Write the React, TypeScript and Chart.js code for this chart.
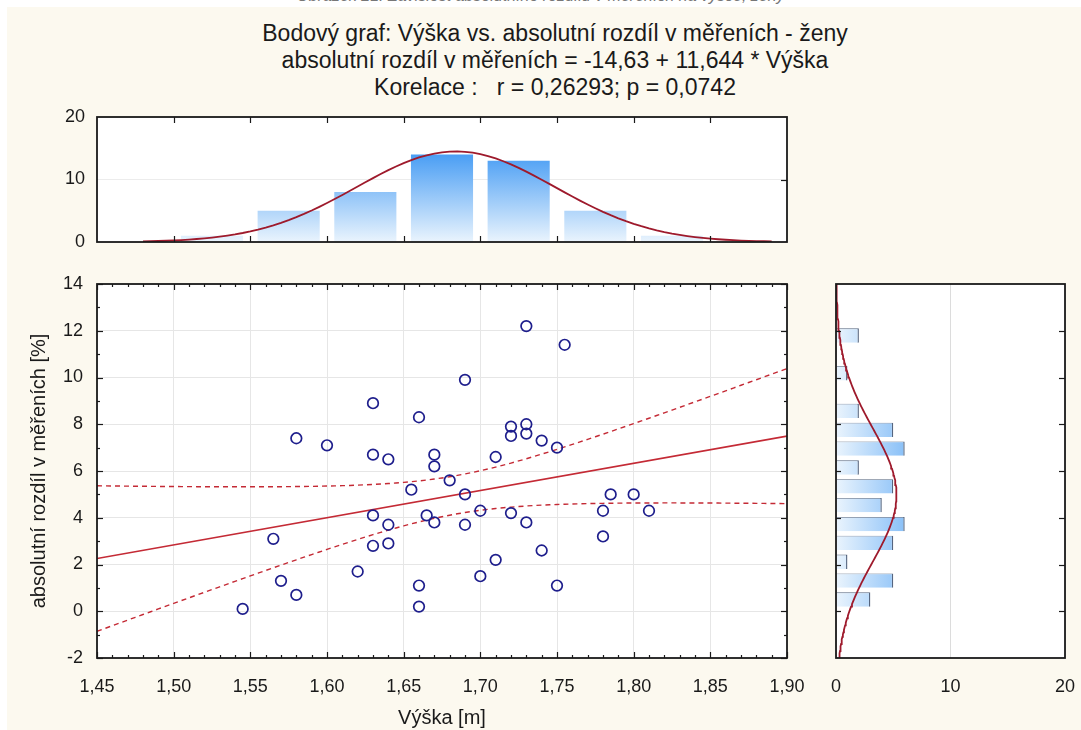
import React, { useEffect, useRef } from "react";
import { Chart, registerables } from "chart.js";

Chart.register(...registerables);

// ---------- data ----------
const heights = [
  1.545, 1.565, 1.57, 1.58, 1.58, 1.6, 1.62, 1.63, 1.63, 1.63, 1.63, 1.64, 1.64, 1.64,
  1.655, 1.66, 1.66, 1.66, 1.665, 1.67, 1.67, 1.67, 1.68, 1.69, 1.69, 1.69, 1.7, 1.7,
  1.71, 1.71, 1.72, 1.72, 1.72, 1.73, 1.73, 1.73, 1.73, 1.74, 1.74, 1.75, 1.75, 1.755,
  1.78, 1.78, 1.785, 1.8, 1.81,
];
const diffs = [
  0.1, 3.1, 1.3, 0.7, 7.4, 7.1, 1.7, 8.9, 6.7, 4.1, 2.8, 6.5, 3.7, 2.9,
  5.2, 8.3, 1.1, 0.2, 4.1, 6.7, 6.2, 3.8, 5.6, 9.9, 5.0, 3.7, 4.3, 1.5,
  6.6, 2.2, 7.9, 7.5, 4.2, 12.2, 8.0, 7.6, 3.8, 7.3, 2.6, 7.0, 1.1, 11.4,
  4.3, 3.2, 5.0, 5.0, 4.3,
];
const heightBinCenters = [1.525, 1.575, 1.625, 1.675, 1.725, 1.775, 1.825];
const heightBinCounts = [1, 5, 8, 14, 13, 5, 1];
const heightBinWidth = 0.05;
const diffBinCenters = [0.503, 1.31, 2.117, 2.923, 3.73, 4.537, 5.343, 6.15, 6.957, 7.763, 8.57, 9.377, 10.183, 10.99, 11.797];
const diffBinCounts = [3, 5, 1, 5, 6, 4, 5, 2, 6, 5, 2, 0, 1, 0, 2];
const diffBinWidth = 0.8067;
const xTickValues = [1.45, 1.5, 1.55, 1.6, 1.65, 1.7, 1.75, 1.8, 1.85, 1.9];
const yTickValues = [-2, 0, 2, 4, 6, 8, 10, 12, 14];
const histCountTicks = [0, 10, 20];
const intercept = -14.63;
const slope = 11.644;
const tCrit = 2.014;

const titleLines = [
  "Bodový graf: Výška vs. absolutní rozdíl v měřeních - ženy",
  "absolutní rozdíl v měřeních = -14,63 + 11,644 * Výška",
  "Korelace :   r = 0,26293; p = 0,0742",
];
const xTitle = "Výška [m]";
const yTitle = "absolutní rozdíl v měřeních [%]";
const caption = "Obrázek 21: Závislost absolutního rozdílu v měřeních na výšce, ženy";

// ---------- derived statistics ----------
const n = heights.length;
const mean = (a: number[]) => a.reduce((s, v) => s + v, 0) / a.length;
const sdev = (a: number[]) => {
  const m = mean(a);
  return Math.sqrt(a.reduce((s, v) => s + (v - m) * (v - m), 0) / (a.length - 1));
};
const mx = mean(heights);
const my = mean(diffs);
const sx = sdev(heights);
const sy = sdev(diffs);
const Sxx = heights.reduce((s, v) => s + (v - mx) * (v - mx), 0);
const sse = heights.reduce((s, v, i) => {
  const r = diffs[i] - (intercept + slope * v);
  return s + r * r;
}, 0);
const sRes = Math.sqrt(sse / (n - 2));
const pdf = (v: number, m: number, s: number) =>
  Math.exp(-0.5 * ((v - m) / s) ** 2) / (s * Math.sqrt(2 * Math.PI));

const FONT = "'Liberation Sans', Arial, Helvetica, sans-serif";
const TEXT = "#1a1a1a";
const GRID = "#e6e6e6";
const RED = "#c42a35";
const DARKRED = "#9e1a2c";

type Side = "top" | "bottom" | "left" | "right";
type TickSpec = { side: Side; values: number[]; major: (v: number) => boolean; majorLen?: number; minorLen?: number };

function framePlugin(specs: TickSpec[]) {
  return {
    id: "frame",
    beforeDraw(chart: any) {
      const { ctx, chartArea: a } = chart;
      ctx.save();
      ctx.fillStyle = "#ffffff";
      ctx.fillRect(a.left, a.top, a.right - a.left, a.bottom - a.top);
      ctx.restore();
    },
    afterDraw(chart: any) {
      const { ctx, chartArea: a, scales } = chart;
      ctx.save();
      ctx.strokeStyle = "#1a1a1a";
      ctx.lineWidth = 1.2;
      for (const s of specs) {
        for (const v of s.values) {
          const len = s.major(v) ? s.majorLen ?? 6 : s.minorLen ?? 3;
          ctx.beginPath();
          if (s.side === "top" || s.side === "bottom") {
            const p = Math.round(scales.x.getPixelForValue(v)) + 0.5;
            if (s.side === "top") {
              ctx.moveTo(p, a.top);
              ctx.lineTo(p, a.top + len);
            } else {
              ctx.moveTo(p, a.bottom);
              ctx.lineTo(p, a.bottom - len);
            }
          } else {
            const p = Math.round(scales.y.getPixelForValue(v)) + 0.5;
            if (s.side === "left") {
              ctx.moveTo(a.left, p);
              ctx.lineTo(a.left + len, p);
            } else {
              ctx.moveTo(a.right, p);
              ctx.lineTo(a.right - len, p);
            }
          }
          ctx.stroke();
        }
      }
      ctx.lineWidth = 1.8;
      ctx.strokeRect(a.left, a.top, a.right - a.left, a.bottom - a.top);
      ctx.restore();
    },
  };
}

const tickFont = { family: FONT, size: 18 };
const comma = (v: number, d: number) => v.toFixed(d).replace(".", ",");
const noOverhang = (s: any) => {
  s.paddingLeft = 0;
  s.paddingRight = 0;
  s.paddingTop = 0;
  s.paddingBottom = 0;
};

export default function App() {
  const topRef = useRef<HTMLCanvasElement>(null);
  const mainRef = useRef<HTMLCanvasElement>(null);
  const sideRef = useRef<HTMLCanvasElement>(null);

  useEffect(() => {
    const charts: Chart[] = [];

    // ---------- main scatter ----------
    const hundredths: number[] = [];
    for (let i = 145; i <= 190; i++) hundredths.push(i / 100);
    const units: number[] = [];
    for (let i = -2; i <= 14; i++) units.push(i);

    const bandX: number[] = [];
    for (let i = 0; i <= 90; i++) bandX.push(1.45 + i * 0.005);
    const half = (x: number) => tCrit * sRes * Math.sqrt(1 / n + ((x - mx) * (x - mx)) / Sxx);

    charts.push(
      new Chart(mainRef.current!, {
        type: "scatter",
        data: {
          datasets: [
            {
              type: "scatter",
              data: heights.map((x, i) => ({ x, y: diffs[i] })),
              pointRadius: 5.3,
              pointBorderWidth: 1.7,
              borderColor: "#1e1e8c",
              backgroundColor: "rgba(0,0,0,0)",
              pointBackgroundColor: "rgba(0,0,0,0)",
              order: 0,
            } as any,
            {
              type: "line",
              data: [1.45, 1.9].map((x) => ({ x, y: intercept + slope * x })),
              borderColor: RED,
              borderWidth: 1.6,
              pointRadius: 0,
              order: 1,
            },
            {
              type: "line",
              data: bandX.map((x) => ({ x, y: intercept + slope * x + half(x) })),
              borderColor: RED,
              borderWidth: 1.4,
              borderDash: [5, 4],
              pointRadius: 0,
              order: 2,
            },
            {
              type: "line",
              data: bandX.map((x) => ({ x, y: intercept + slope * x - half(x) })),
              borderColor: RED,
              borderWidth: 1.4,
              borderDash: [5, 4],
              pointRadius: 0,
              order: 3,
            },
          ],
        },
        options: {
          animation: false,
          responsive: false,
          devicePixelRatio: 1,
          layout: { padding: { top: 14, right: 43, left: 0, bottom: 0 } },
          plugins: { legend: { display: false }, tooltip: { enabled: false } },
          scales: {
            x: {
              type: "linear",
              min: 1.45,
              max: 1.9,
              afterBuildTicks: (s: any) => {
                s.ticks = xTickValues.map((value) => ({ value }));
              },
              afterFit: (s: any) => {
                s.height = 72;
                noOverhang(s);
              },
              grid: { color: GRID, drawTicks: false },
              border: { display: false },
              ticks: {
                font: tickFont,
                color: TEXT,
                padding: 18,
                autoSkip: false,
                maxRotation: 0,
                callback: (v: any) => comma(Number(v), 2),
              },
            },
            y: {
              type: "linear",
              min: -2,
              max: 14,
              afterBuildTicks: (s: any) => {
                s.ticks = yTickValues.map((value) => ({ value }));
              },
              afterFit: (s: any) => {
                s.width = 97;
                noOverhang(s);
              },
              grid: { color: GRID, drawTicks: false },
              border: { display: false },
              ticks: { font: tickFont, color: TEXT, padding: 14, callback: (v: any) => String(v) },
            },
          },
        },
        plugins: [
          framePlugin([
            { side: "top", values: hundredths, major: (v) => Math.round(v * 100) % 5 === 0, majorLen: 6, minorLen: 3 },
            { side: "bottom", values: hundredths, major: (v) => Math.round(v * 100) % 5 === 0, majorLen: 6, minorLen: 3 },
            { side: "left", values: units, major: (v) => v % 2 === 0, majorLen: 6, minorLen: 3 },
            { side: "right", values: units, major: (v) => v % 2 === 0, majorLen: 6, minorLen: 3 },
          ]),
        ] as any,
      })
    );

    // ---------- top histogram ----------
    const normX: number[] = [];
    for (let i = 0; i <= 82; i++) normX.push(1.48 + i * 0.005);
    const topGrad = (c: any) => {
      const ch = c.chart;
      if (!ch.chartArea) return "#9cc8f6";
      const y = ch.scales.y;
      const g = ch.ctx.createLinearGradient(0, y.getPixelForValue(0), 0, y.getPixelForValue(14));
      g.addColorStop(0, "#eaf4fd");
      g.addColorStop(1, "#4a9ef4");
      return g;
    };
    const fifths = [1.5, 1.55, 1.6, 1.65, 1.7, 1.75, 1.8, 1.85];
    charts.push(
      new Chart(topRef.current!, {
        type: "bar",
        data: {
          datasets: [
            {
              type: "line",
              data: normX.map((x) => ({ x, y: n * heightBinWidth * pdf(x, mx, sx) })),
              borderColor: DARKRED,
              borderWidth: 1.8,
              pointRadius: 0,
              order: 0,
            } as any,
            {
              type: "bar",
              data: heightBinCenters.map((x, i) => ({ x, y: heightBinCounts[i] })),
              backgroundColor: topGrad,
              borderWidth: 0,
              categoryPercentage: 0.81,
              barPercentage: 1,
              order: 1,
            },
          ],
        },
        options: {
          animation: false,
          responsive: false,
          devicePixelRatio: 1,
          layout: { padding: { top: 17, right: 13, left: 0, bottom: 0 } },
          plugins: { legend: { display: false }, tooltip: { enabled: false } },
          scales: {
            x: {
              type: "linear",
              min: 1.45,
              max: 1.9,
              offset: false,
              afterBuildTicks: (s: any) => {
                s.ticks = xTickValues.map((value) => ({ value }));
              },
              afterFit: (s: any) => {
                s.height = 18;
                noOverhang(s);
              },
              grid: { display: false, offset: false },
              border: { display: false },
              ticks: { display: false },
            },
            y: {
              type: "linear",
              min: 0,
              max: 20,
              afterBuildTicks: (s: any) => {
                s.ticks = histCountTicks.map((value) => ({ value }));
              },
              afterFit: (s: any) => {
                s.width = 97;
                noOverhang(s);
              },
              grid: { color: "#ececec", drawTicks: false },
              border: { display: false },
              ticks: { font: tickFont, color: TEXT, padding: 12, callback: (v: any) => String(v) },
            },
          },
        },
        plugins: [
          framePlugin([
            { side: "top", values: fifths, major: () => true, majorLen: 6 },
            { side: "bottom", values: fifths, major: () => true, majorLen: 6 },
            { side: "right", values: [10], major: () => true, majorLen: 6 },
          ]),
        ] as any,
      })
    );

    // ---------- right histogram ----------
    const normY: number[] = [];
    for (let i = 0; i <= 160; i++) normY.push(-2 + i * 0.1);
    const sideGrad = (c: any) => {
      const ch = c.chart;
      if (!ch.chartArea) return "#9cc8f6";
      const x = ch.scales.x;
      const g = ch.ctx.createLinearGradient(x.getPixelForValue(0), 0, x.getPixelForValue(10), 0);
      g.addColorStop(0, "#eaf4fd");
      g.addColorStop(1, "#4a9ef4");
      return g;
    };
    const evens = [0, 2, 4, 6, 8, 10, 12];
    charts.push(
      new Chart(sideRef.current!, {
        type: "bar",
        data: {
          datasets: [
            {
              type: "line",
              data: normY.map((y) => ({ x: n * diffBinWidth * pdf(y, my, sy), y })),
              borderColor: DARKRED,
              borderWidth: 1.8,
              pointRadius: 0,
              order: 0,
            } as any,
            {
              type: "bar",
              data: diffBinCenters.map((y, i) => ({ x: diffBinCounts[i], y })),
              backgroundColor: sideGrad,
              borderColor: "#56657e",
              borderWidth: { top: 0.8, right: 1.4, bottom: 0, left: 0 },
              borderSkipped: false,
              categoryPercentage: 0.76,
              barPercentage: 1,
              order: 1,
            } as any,
          ],
        },
        options: {
          indexAxis: "y",
          animation: false,
          responsive: false,
          devicePixelRatio: 1,
          layout: { padding: { top: 14, right: 16, left: 0, bottom: 0 } },
          plugins: { legend: { display: false }, tooltip: { enabled: false } },
          scales: {
            x: {
              type: "linear",
              min: 0,
              max: 20,
              offset: false,
              afterBuildTicks: (s: any) => {
                s.ticks = histCountTicks.map((value) => ({ value }));
              },
              afterFit: (s: any) => {
                s.height = 72;
                noOverhang(s);
              },
              grid: { color: "#dcdcdc", drawTicks: false, offset: false },
              border: { display: false },
              ticks: { font: tickFont, color: TEXT, padding: 18, maxRotation: 0, callback: (v: any) => String(v) },
            },
            y: {
              type: "linear",
              min: -2,
              max: 14,
              offset: false,
              afterBuildTicks: (s: any) => {
                s.ticks = yTickValues.map((value) => ({ value }));
              },
              afterFit: (s: any) => {
                s.width = 36;
                noOverhang(s);
              },
              grid: { display: false, offset: false },
              border: { display: false },
              ticks: { display: false },
            },
          },
        },
        plugins: [
          framePlugin([
            { side: "left", values: evens, major: () => true, majorLen: 5 },
            { side: "right", values: evens, major: () => true, majorLen: 6 },
          ]),
        ] as any,
      })
    );

    return () => charts.forEach((c) => c.destroy());
  }, []);

  const abs = (style: React.CSSProperties): React.CSSProperties => ({ position: "absolute", ...style });

  return (
    <div
      style={{
        position: "fixed",
        left: 0,
        top: 0,
        width: 1081,
        height: 730,
        background: "#ffffff",
        overflow: "hidden",
        fontFamily: FONT,
        color: TEXT,
      }}
    >
      <div
        style={abs({
          left: 0,
          width: 1081,
          top: -12,
          textAlign: "center",
          fontStyle: "italic",
          fontSize: 16,
          lineHeight: "16px",
          color: "#777",
          whiteSpace: "nowrap",
        })}
      >
        {caption}
      </div>
      <div style={abs({ left: 7, top: 7, right: 0, bottom: 0, background: "#fcf9ef" })} />
      {titleLines.map((t, i) => (
        <div
          key={i}
          style={abs({
            left: 0,
            width: 1110,
            top: 20 + i * 27,
            textAlign: "center",
            fontSize: 23,
            lineHeight: "27px",
            whiteSpace: "pre",
          })}
        >
          {t}
        </div>
      ))}
      <canvas ref={topRef} width={800} height={160} style={abs({ left: 0, top: 100, width: 800, height: 160 })} />
      <canvas ref={mainRef} width={830} height={460} style={abs({ left: 0, top: 270, width: 830, height: 460 })} />
      <canvas ref={sideRef} width={281} height={460} style={abs({ left: 800, top: 270, width: 281, height: 460 })} />
      <div
        style={abs({
          left: 38 - 200,
          top: 471 - 12,
          width: 400,
          height: 24,
          lineHeight: "24px",
          fontSize: 20,
          textAlign: "center",
          transform: "rotate(-90deg)",
          whiteSpace: "nowrap",
        })}
      >
        {yTitle}
      </div>
      <div
        style={abs({
          left: 442 - 150,
          width: 300,
          top: 705,
          lineHeight: "24px",
          fontSize: 20,
          textAlign: "center",
          whiteSpace: "nowrap",
        })}
      >
        {xTitle}
      </div>
    </div>
  );
}
